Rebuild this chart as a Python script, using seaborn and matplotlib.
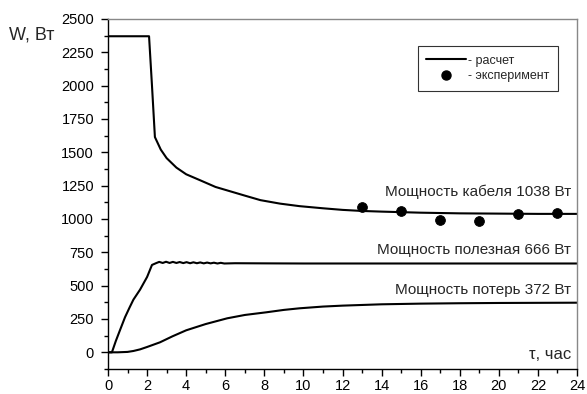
import matplotlib
matplotlib.use("Agg")
import matplotlib.pyplot as plt
import seaborn as sns
from matplotlib.ticker import MultipleLocator
from matplotlib.lines import Line2D

# ---- data ----
cable_t = [0, 2.1, 2.25, 2.4, 2.7, 3.0, 3.5, 4.0, 4.7, 5.5, 6.4, 7.0, 7.8, 8.8, 9.8, 11, 12, 13, 14, 16, 18, 20, 22, 24]
cable_w = [2370, 2370, 2000, 1614, 1520, 1456, 1385, 1335, 1291, 1240, 1201, 1175, 1141, 1115, 1096, 1080, 1068, 1060, 1055, 1047, 1042, 1040, 1038, 1038]

useful_t = [0, 0.2, 0.4, 0.61, 0.87, 1.1, 1.3, 1.64, 2.0, 2.25, 2.45,
            2.62, 2.8, 2.97, 3.15, 3.32, 3.5, 3.67, 3.85, 4.02, 4.2, 4.37, 4.55, 4.72, 4.9,
            5.07, 5.25, 5.42, 5.6, 5.77, 5.95, 6.5, 8.0, 10, 12, 14, 16, 18, 20, 22, 24]
useful_w = [0, 0, 85, 165, 263, 335, 395, 470, 565, 655, 668,
            678, 670, 679, 670, 678, 670, 677, 669, 676, 668, 675, 668, 674, 667,
            673, 667, 672, 666, 671, 666, 668, 667, 666, 666, 666, 666, 666, 666, 666, 666]

loss_t = [0, 0.5, 1.0, 1.3, 1.64, 2.0, 2.66, 3.3, 4.0, 5.0, 6.1, 7.0, 8.1, 9.0, 9.8, 11, 12, 14, 16, 18, 20, 22, 24]
loss_w = [0, 0, 3, 10, 22, 40, 75, 120, 165, 212, 255, 280, 300, 318, 330, 343, 350, 360, 365, 368, 370, 371, 372]

exp_t = [13, 15, 17, 19, 21, 23]
exp_w = [1089, 1059, 991, 983, 1036, 1044]

labels = ["Мощность кабеля 1038 Вт", "Мощность полезная 666 Вт", "Мощность потерь 372 Вт"]

sns.set_theme(style="white")
plt.rcParams["font.family"] = ["Liberation Sans", "DejaVu Sans"]

fig = plt.figure(figsize=(5.87, 3.94), dpi=100)
ax = fig.add_axes([0.184, 0.0635, 0.799, 0.8885])

for t, w in [(cable_t, cable_w), (useful_t, useful_w), (loss_t, loss_w)]:
    sns.lineplot(x=t, y=w, ax=ax, color="black", linewidth=1.5, sort=False, estimator=None)

sns.scatterplot(x=exp_t, y=exp_w, ax=ax, color="black", s=50, edgecolor="black", zorder=5)

ax.set_xlim(0, 24)
ax.set_ylim(-125, 2500)
ax.xaxis.set_major_locator(MultipleLocator(2))
ax.xaxis.set_minor_locator(MultipleLocator(1))
ax.yaxis.set_major_locator(MultipleLocator(250))
ax.yaxis.set_minor_locator(MultipleLocator(125))
ax.tick_params(which="major", direction="out", length=5, width=1, colors="black",
               labelsize=10.5, left=True, bottom=True, top=False, right=False)
ax.tick_params(axis="y", which="major", pad=5)
ax.tick_params(axis="x", which="major", pad=2.5)
ax.tick_params(which="minor", direction="out", length=3, width=1, colors="black",
               left=True, bottom=True, top=False, right=False)
for s in ["left", "bottom"]:
    ax.spines[s].set_color("black")
    ax.spines[s].set_linewidth(1.0)
for s in ["top", "right"]:
    ax.spines[s].set_color("#888888")
    ax.spines[s].set_linewidth(1.0)

ax.text(23.7, 1205, labels[0], ha="right", va="center", fontsize=11)
ax.text(23.7, 765, labels[1], ha="right", va="center", fontsize=11)
ax.text(23.7, 465, labels[2], ha="right", va="center", fontsize=11)
ax.text(23.7, -20, "τ, час", ha="right", va="center", fontsize=12)
fig.text(9 / 587, 1 - 35 / 394, "W, Вт", ha="left", va="center", fontsize=13)

handles = [Line2D([], [], color="black", linewidth=1.5),
           Line2D([], [], color="black", marker="o", linestyle="none", markersize=6.5)]
leg = ax.legend(handles, ["- расчет", "- эксперимент"], loc="upper right",
                bbox_to_anchor=(0.96, 0.923), fontsize=9, frameon=True, fancybox=False,
                handlelength=3.2, handletextpad=0.15, borderpad=0.7, labelspacing=0.3,
                borderaxespad=0)
leg.get_frame().set_edgecolor("black")
leg.get_frame().set_linewidth(0.8)

fig.savefig("out.png", dpi=100)
